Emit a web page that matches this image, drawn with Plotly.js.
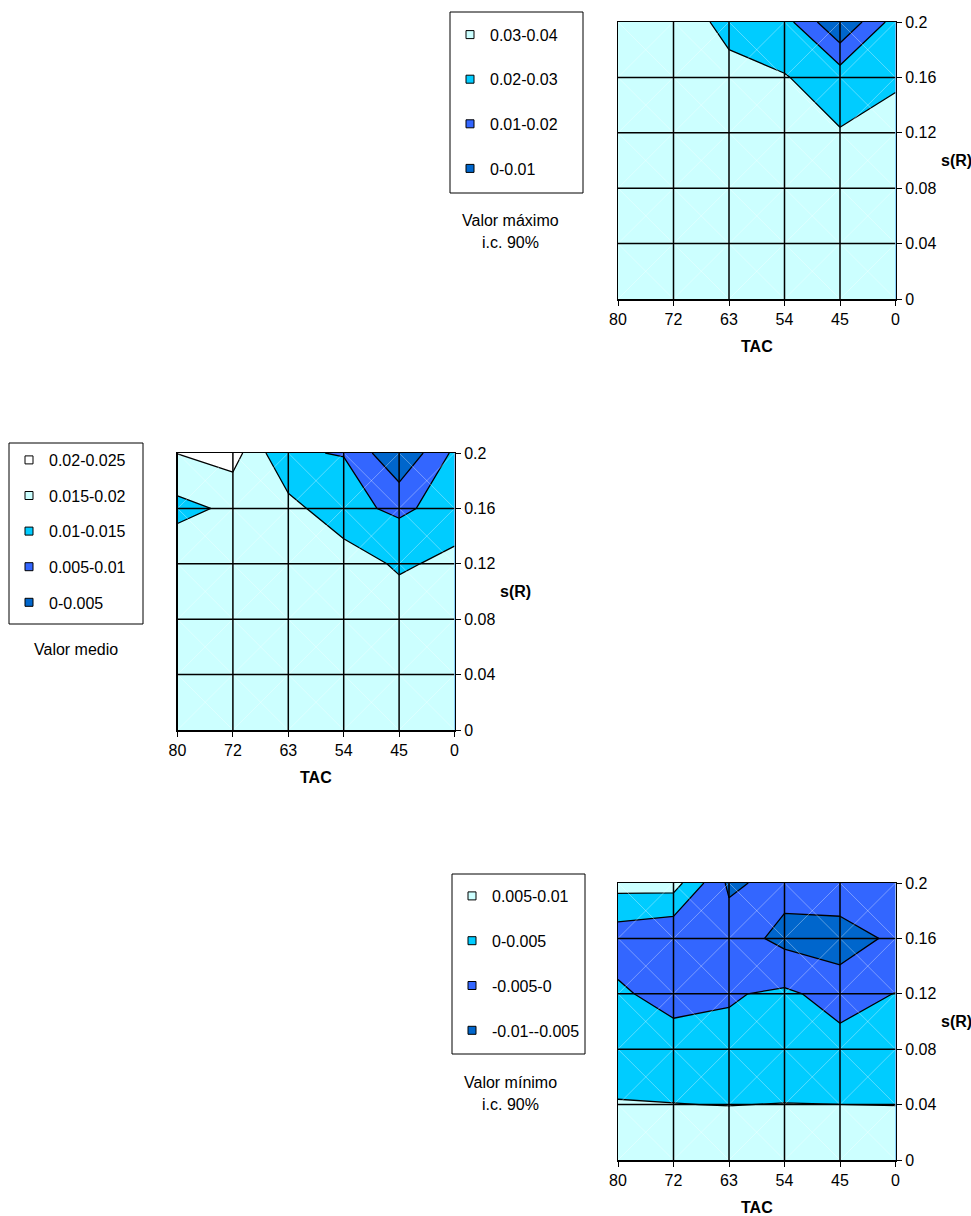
<!DOCTYPE html>
<html><head><meta charset="utf-8">
<script src="https://cdn.plot.ly/plotly-3.0.1.min.js"></script>
<style>html,body{margin:0;padding:0;background:#fff}#chart{width:971px;height:1216px}</style>
</head><body><div id="chart"></div>
<script>
// ---------- data ----------
const cats = ['80','72','63','54','45','0'];           // TAC categories
const sVals = [0, 0.04, 0.08, 0.12, 0.16, 0.2];         // s(R) values
const sTickText = ['0','0.04','0.08','0.12','0.16','0.2'];

// rows: s(R) = 0 ... 0.2 ; columns: TAC 80 ... 0
const zMaximo = [
  [0.036, 0.036, 0.036, 0.036, 0.036, 0.036],
  [0.036, 0.036, 0.036, 0.036, 0.036, 0.036],
  [0.036, 0.036, 0.036, 0.036, 0.036, 0.036],
  [0.036, 0.036, 0.035, 0.034, 0.0305, 0.034],
  [0.036, 0.035, 0.0313, 0.0305, 0.0255, 0.0285],
  [0.035, 0.0325, 0.0287, 0.0238, 0.0005, 0.0244]
];
const zMedio = [
  [0.018, 0.018, 0.018, 0.018, 0.018, 0.018],
  [0.018, 0.018, 0.018, 0.018, 0.018, 0.018],
  [0.0185, 0.0185, 0.0185, 0.0185, 0.0184, 0.018],
  [0.019, 0.019, 0.0185, 0.018, 0.01415, 0.0164],
  [0.0135, 0.016, 0.0168, 0.01135, 0.0091, 0.012],
  [0.0201, 0.0221, 0.0102, 0.0099, 0.0004, 0.011]
];
const zMinimo = [
  [0.008, 0.008, 0.008, 0.008, 0.008, 0.008],
  [0.00532, 0.00506, 0.00493, 0.0051, 0.00501, 0.00495],
  [0.002, 0.0031, 0.00125, 0.002, 0.0015, 0.003],
  [0.001, -0.00245, -0.00041, 0.0008, -0.0017, 0.0001],
  [-0.0029, -0.0047, -0.0025, -0.0064, -0.008, -0.0037],
  [0.0068, 0.0071, -0.0059, -0.0033, -0.0005, -0.002]
];

const levelsMaximo = {start: 0.01, end: 0.03, size: 0.01};
const levelsMedio  = {start: 0.005, end: 0.02, size: 0.005};
const levelsMinimo = {start: -0.005, end: 0.005, size: 0.005};

const labelsMaximo = ['0.03-0.04', '0.02-0.03', '0.01-0.02', '0-0.01'];
const colorsMaximo = ['#CCFFFF', '#00CCFF', '#3366FF', '#0066CC'];
const labelsMedio  = ['0.02-0.025', '0.015-0.02', '0.01-0.015', '0.005-0.01', '0-0.005'];
const colorsMedio  = ['#FFFFFF', '#CCFFFF', '#00CCFF', '#3366FF', '#0066CC'];
const labelsMinimo = ['0.005-0.01', '0-0.005', '-0.005-0', '-0.01--0.005'];
const colorsMinimo = ['#CCFFFF', '#00CCFF', '#3366FF', '#0066CC'];

const notesMaximo = ['Valor máximo', 'i.c. 90%'];
const notesMedio  = ['Valor medio'];
const notesMinimo = ['Valor mínimo', 'i.c. 90%'];
const xTitle = 'TAC';
const yTitle = 's(R)';

// ---------- layout (pixels) ----------
const W = 971, H = 1216;
const FONT = 'Liberation Sans, Arial, sans-serif';
const panels = [
  {z: zMaximo, lv: levelsMaximo, labels: labelsMaximo, colors: colorsMaximo, notes: notesMaximo,
   box: {l: 618, r: 895.5, t: 22, b: 299},
   frame: {l: 450, r: 583, t: 12, b: 193}, firstItem: 35.7, gap: 20.8, note: {x: 510, y: 220}},
  {z: zMedio, lv: levelsMedio, labels: labelsMedio, colors: colorsMedio, notes: notesMedio,
   box: {l: 177.5, r: 454.5, t: 453, b: 730},
   frame: {l: 9, r: 143, t: 443, b: 624}, firstItem: 461, gap: 11.8, note: {x: 76, y: 649}},
  {z: zMinimo, lv: levelsMinimo, labels: labelsMinimo, colors: colorsMinimo, notes: notesMinimo,
   box: {l: 618, r: 895.5, t: 883, b: 1160},
   frame: {l: 452, r: 585, t: 874, b: 1054}, firstItem: 897, gap: 21, note: {x: 510, y: 1082}}
];

const traces = [];
const layout = {
  width: W, height: H, margin: {l: 0, r: 0, t: 0, b: 0},
  paper_bgcolor: '#fff', plot_bgcolor: '#fff',
  font: {family: FONT, size: 16, color: '#000'},
  showlegend: true, annotations: [], shapes: []
};

panels.forEach((p, k) => {
  const sfx = k === 0 ? '' : String(k + 1);
  const xa = 'x' + sfx, ya = 'y' + sfx;
  const legName = 'legend' + sfx;
  const scale = p.colors.slice().reverse().map((c, i, a) => [i / (a.length - 1), c]);

  traces.push({
    type: 'contour', x: cats, y: sVals, z: p.z, xaxis: xa, yaxis: ya,
    autocontour: false,
    contours: {start: p.lv.start, end: p.lv.end, size: p.lv.size, coloring: 'fill', showlines: true},
    line: {color: '#000', width: 1.3, smoothing: 0},
    colorscale: scale, showscale: false, hoverinfo: 'skip', showlegend: false
  });

  // faint cell diagonals (surface triangulation)
  const dx = [], dy = [];
  for (let i = 0; i < cats.length - 1; i++) {
    for (let j = 0; j < sVals.length - 1; j++) {
      dx.push(cats[i], cats[i + 1], null, cats[i], cats[i + 1], null);
      dy.push(sVals[j], sVals[j + 1], null, sVals[j + 1], sVals[j], null);
    }
  }
  traces.push({type: 'scatter', mode: 'lines', x: dx, y: dy, xaxis: xa, yaxis: ya,
    line: {color: 'rgba(255,255,255,0.35)', width: 1}, hoverinfo: 'skip', showlegend: false});

  // interior grid lines above the surface (edges are the axis lines)
  const gx = [], gy = [];
  cats.slice(1, -1).forEach(c => { gx.push(c, c, null); gy.push(sVals[0], sVals[sVals.length - 1], null); });
  sVals.slice(1, -1).forEach(v => { gx.push(cats[0], cats[cats.length - 1], null); gy.push(v, v, null); });
  traces.push({type: 'scatter', mode: 'lines', x: gx, y: gy, xaxis: xa, yaxis: ya,
    line: {color: '#000', width: 1.5}, hoverinfo: 'skip', showlegend: false});

  // legend entries
  p.labels.forEach((lab, i) => {
    traces.push({type: 'scatter', mode: 'markers', x: [null], y: [null], xaxis: xa, yaxis: ya,
      name: lab, legend: legName, legendgroup: 'g' + k + '_' + i,
      marker: {symbol: 'square', size: 8, color: p.colors[i], line: {color: '#000', width: 1}},
      hoverinfo: 'skip', showlegend: true});
  });

  const b = p.box;
  layout['xaxis' + sfx] = {
    type: 'category', domain: [b.l / W, b.r / W], range: [0, cats.length - 1], anchor: ya,
    showgrid: false, zeroline: false, showline: true, mirror: true, linecolor: '#000', linewidth: 1.5,
    ticks: 'outside', ticklen: 5, tickcolor: '#000', tickwidth: 1,
    tickfont: {family: FONT, size: 16, color: '#000'}, fixedrange: true
  };
  layout['yaxis' + sfx] = {
    domain: [1 - b.b / H, 1 - b.t / H], range: [sVals[0], sVals[sVals.length - 1]], anchor: xa,
    side: 'right', tickvals: sVals, ticktext: sTickText,
    showgrid: false, zeroline: false, showline: true, mirror: true, linecolor: '#000', linewidth: 1.5,
    ticks: 'outside', ticklen: 5, tickcolor: '#000', tickwidth: 1,
    tickfont: {family: FONT, size: 16, color: '#000'}, fixedrange: true
  };

  // legend frame
  const f = p.frame;
  layout.shapes.push({type: 'rect', xref: 'paper', yref: 'paper', layer: 'below',
    x0: f.l / W, x1: f.r / W, y0: 1 - f.b / H, y1: 1 - f.t / H,
    line: {color: '#000', width: 1}, fillcolor: '#fff'});
  layout[legName] = {
    x: f.l / W, y: 1 - (p.firstItem - 18) / H, xanchor: 'left', yanchor: 'top',
    bgcolor: 'rgba(0,0,0,0)', borderwidth: 0,
    font: {family: FONT, size: 16, color: '#000'}, tracegroupgap: p.gap,
    traceorder: 'grouped', itemclick: false, itemdoubleclick: false
  };

  layout.annotations.push({
    xref: 'paper', yref: 'paper', x: (b.l + b.r) / 2 / W, y: 1 - (b.b + 47) / H,
    xanchor: 'center', yanchor: 'middle', showarrow: false,
    text: '<b>' + xTitle + '</b>', font: {family: FONT, size: 16, color: '#000'}
  });
  layout.annotations.push({
    xref: 'paper', yref: 'paper', x: (b.r + 61) / W, y: 1 - (b.t + b.b) / 2 / H,
    xanchor: 'center', yanchor: 'middle', showarrow: false,
    text: '<b>' + yTitle + '</b>', font: {family: FONT, size: 16, color: '#000'}
  });
  p.notes.forEach((t, i) => {
    layout.annotations.push({
      xref: 'paper', yref: 'paper', x: p.note.x / W, y: 1 - (p.note.y + 22 * i) / H,
      xanchor: 'center', yanchor: 'middle', showarrow: false,
      text: t, font: {family: FONT, size: 16, color: '#000'}
    });
  });
});

Plotly.newPlot('chart', traces, layout, {staticPlot: true, displayModeBar: false});
</script>
</body></html>
